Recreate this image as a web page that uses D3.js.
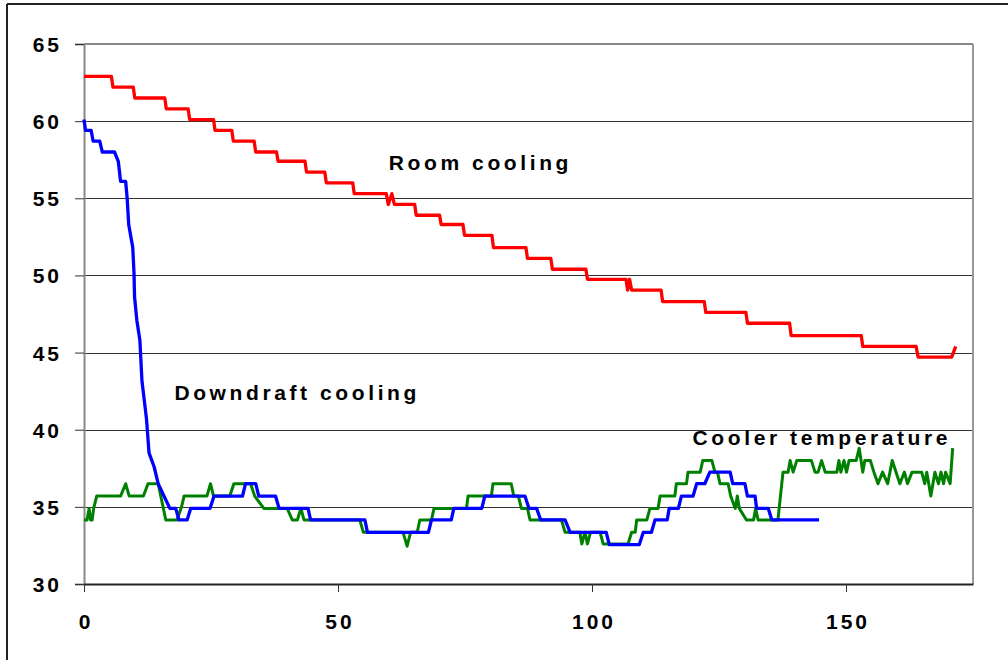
<!DOCTYPE html>
<html>
<head>
<meta charset="utf-8">
<script src="https://cdn.jsdelivr.net/npm/d3@7"></script>
<style>
  html, body { margin: 0; padding: 0; background: #fff; }
  svg { display: block; }
  text { font-family: "Liberation Sans", Arial, sans-serif; font-weight: bold; fill: #000; }
</style>
</head>
<body>
<svg id="chart" width="1008" height="660"></svg>
<script>
// ---- data ----
const xTicks = [0, 50, 100, 150];
const yTicks = [30, 35, 40, 45, 50, 55, 60, 65];

const roomCooling = [
  [0,62.9],[5.4,62.9],[5.7,62.2],[9.7,62.2],[10.0,61.5],[15.9,61.5],[16.2,60.8],[20.5,60.8],[20.8,60.1],
  [25.5,60.1],[25.8,59.4],[29.1,59.4],[29.4,58.7],[33.5,58.7],[33.8,58.0],[37.9,58.0],[38.2,57.4],
  [43.5,57.4],[43.8,56.7],[47.4,56.7],[47.7,56.0],[52.9,56.0],[53.2,55.3],[59.5,55.3],[59.9,54.6],
  [60.6,55.3],[61.1,54.6],[65.1,54.6],[65.4,53.9],[70.0,53.9],[70.3,53.3],[74.6,53.3],[74.9,52.6],
  [80.3,52.6],[80.6,51.8],[87.0,51.8],[87.3,51.1],[91.9,51.1],[92.2,50.4],[98.8,50.4],[99.1,49.75],
  [106.7,49.75],[107.0,49.05],[107.4,49.75],[107.8,49.05],[113.6,49.05],[113.9,48.3],[122.1,48.3],
  [122.4,47.6],[130.3,47.6],[130.6,46.9],[138.9,46.9],[139.2,46.1],[153.0,46.1],[153.3,45.4],
  [163.8,45.4],[164.2,44.7],[170.8,44.7],[171.6,45.4]
];

const downdraftCooling = [
  [0,60.1],[0.3,59.4],[1.4,59.4],[1.8,58.7],[3.1,58.7],[3.6,58.0],[6.0,58.0],[6.75,57.4],[7.2,56.1],
  [8.2,56.1],[8.5,55.0],[8.8,53.3],[9.6,51.8],[9.85,50.1],[9.95,48.6],[10.4,47.1],[11.0,45.8],
  [11.4,43.2],[12.3,40.7],[12.8,38.5],[13.8,37.6],[14.6,36.5],[15.6,35.8],[16.9,34.9],[18.05,34.9],
  [18.7,34.15],[20.3,34.15],[21.0,34.9],[24.8,34.9],[25.6,35.7],[31.2,35.7],[31.8,36.5],[33.8,36.5],
  [34.4,35.7],[37.7,35.7],[38.4,34.9],[44.1,34.9],[44.6,34.15],[55.3,34.15],[55.8,33.35],[67.8,33.35],
  [68.4,34.15],[72.3,34.15],[72.8,34.9],[78.3,34.9],[78.9,35.7],[86.8,35.7],[87.6,34.9],[89.1,34.9],
  [89.9,34.15],[94.7,34.15],[95.7,33.35],[102.8,33.35],[103.4,32.55],[109.3,32.55],[110.1,33.35],
  [111.7,33.35],[112.4,34.15],[114.8,34.15],[115.2,34.9],[117.0,34.9],[117.6,35.7],[119.9,35.7],
  [120.6,36.5],[122.2,36.5],[123.2,37.25],[127.2,37.25],[127.7,36.5],[130.1,36.5],[130.6,35.7],
  [132.1,35.7],[132.4,34.9],[134.7,34.9],[135.4,34.15],[144.7,34.15]
];

const coolerTemperature = [
  [0,34.15],[0.6,34.15],[1.0,34.9],[1.3,34.15],[1.6,34.15],[1.9,34.9],[2.5,35.7],[7.2,35.7],[8.2,36.5],
  [8.9,35.7],[11.7,35.7],[12.6,36.5],[14.6,36.5],[16.1,34.15],[18.3,34.15],[19.2,35.0],[19.7,35.7],
  [24.2,35.7],[24.9,36.5],[25.5,35.7],[28.7,35.7],[29.5,36.5],[32.8,36.5],[33.6,35.7],[35.4,34.9],
  [40.0,34.9],[41.0,34.15],[42.0,34.15],[42.7,34.9],[43.3,34.15],[54.3,34.15],[55.0,33.35],[62.8,33.35],
  [63.6,32.45],[64.3,33.35],[65.6,33.35],[66.1,34.15],[68.4,34.15],[68.9,34.9],[75.3,34.9],[75.6,35.7],
  [80.2,35.7],[80.5,36.5],[84.1,36.5],[84.6,35.7],[85.5,35.7],[86.1,34.9],[87.3,34.9],[87.8,34.15],
  [94.0,34.15],[94.7,33.35],[97.6,33.35],[98.0,32.6],[98.6,33.35],[99.1,32.6],[99.7,33.35],[101.6,33.35],
  [102.2,32.6],[107.1,32.6],[107.8,33.35],[108.5,33.35],[108.8,34.15],[110.8,34.15],[111.4,34.9],
  [113.0,34.9],[113.4,35.7],[116.3,35.7],[116.6,36.5],[118.6,36.5],[118.9,37.25],[121.3,37.25],
  [121.8,38.0],[123.6,38.0],[124.2,37.25],[124.7,37.25],[125.2,36.5],[126.8,36.5],[127.3,35.7],
  [128.2,34.9],[128.6,35.7],[129.0,34.9],[130.4,34.15],[131.8,34.15],[132.2,34.9],[132.7,34.15],
  [136.6,34.15],[137.6,37.25],[138.6,37.25],[139.0,38.0],[139.6,37.25],[140.3,38.0],[143.2,38.0],
  [143.9,37.25],[144.5,37.25],[145.2,38.0],[145.9,37.25],[148.2,37.25],[148.6,38.0],[149.0,37.25],
  [149.6,38.0],[150.1,37.25],[150.6,38.0],[152.0,38.0],[152.6,38.8],[153.3,37.25],[153.7,38.0],
  [154.8,38.0],[155.5,37.25],[156.3,36.5],[157.2,37.25],[158.2,36.5],[159.1,38.0],[160.6,36.5],
  [161.5,37.25],[162.1,36.5],[163.0,37.25],[164.9,37.25],[165.5,36.5],[165.9,37.25],[166.7,35.7],
  [167.5,37.25],[168.2,36.5],[168.7,37.25],[169.2,36.5],[169.6,37.25],[170.5,36.5],[171.0,38.8]
];

const seriesLabels = [
  { text: "Room cooling", x: 60, y: 56.83 },
  { text: "Downdraft cooling", x: 17.8, y: 41.93 },
  { text: "Cooler temperature", x: 119.8, y: 39.0 }
];

// ---- layout ----
const svg = d3.select("#chart");
const pLeft = 84, pRight = 973, pTop = 44, pBottom = 584;
const x = d3.scaleLinear().domain([0, 175]).range([pLeft, pRight]);
const y = d3.scaleLinear().domain([30, 65]).range([pBottom, pTop]);

// outer border (only top and left visible)
svg.append("line").attr("x1", 7).attr("x2", 1008).attr("y1", 4).attr("y2", 4)
  .attr("stroke", "#222").attr("stroke-width", 2);
svg.append("line").attr("x1", 7).attr("x2", 7).attr("y1", 4).attr("y2", 660)
  .attr("stroke", "#222").attr("stroke-width", 2);

// gridlines
svg.append("g").selectAll("line").data(yTicks.filter(d => d > 30 && d < 65)).join("line")
  .attr("x1", pLeft).attr("x2", pRight)
  .attr("y1", d => Math.round(y(d)) + 0.5).attr("y2", d => Math.round(y(d)) + 0.5)
  .attr("stroke", "#333").attr("stroke-width", 1);

// plot frame top & right (gray)
svg.append("line").attr("x1", pLeft).attr("x2", pRight).attr("y1", pTop).attr("y2", pTop)
  .attr("stroke", "#888").attr("stroke-width", 2);
svg.append("line").attr("x1", pRight).attr("x2", pRight).attr("y1", pTop).attr("y2", pBottom)
  .attr("stroke", "#999").attr("stroke-width", 2);

const tickFont = (sel) => sel.attr("font-size", 21)
  .attr("font-family", "Liberation Sans, Arial, sans-serif")
  .attr("font-weight", "bold").attr("fill", "#000").attr("letter-spacing", "3px");

// y axis
const yAxis = d3.axisLeft(y).tickValues(yTicks).tickSize(9).tickPadding(13).tickFormat(d3.format("d"));
const gy = svg.append("g").attr("transform", `translate(${pLeft},0)`).call(yAxis);
gy.select(".domain").attr("stroke", "#888").attr("stroke-width", 2);
gy.selectAll(".tick line").attr("stroke", "#333");
gy.selectAll(".tick text").call(tickFont).attr("dy", "0.36em");

// x axis
const xAxis = d3.axisBottom(x).tickValues(xTicks).tickSize(8).tickPadding(18).tickSizeOuter(0);
const gx = svg.append("g").attr("transform", `translate(0,${pBottom})`).call(xAxis);
gx.select(".domain").attr("stroke", "#222").attr("stroke-width", 2);
gx.selectAll(".tick line").attr("stroke", "#333");
gx.selectAll(".tick text").call(tickFont).attr("dy", "0.9em").attr("dx", 1.5);

// lines
const line = d3.line().x(d => x(d[0])).y(d => y(d[1]));
svg.append("path").datum(coolerTemperature).attr("d", line)
  .attr("fill", "none").attr("stroke", "#008000").attr("stroke-width", 3).attr("stroke-linejoin", "round");
svg.append("path").datum(downdraftCooling).attr("d", line)
  .attr("fill", "none").attr("stroke", "#0000FF").attr("stroke-width", 3.3).attr("stroke-linejoin", "round");
svg.append("path").datum(roomCooling).attr("d", line)
  .attr("fill", "none").attr("stroke", "#FF0000").attr("stroke-width", 3.3).attr("stroke-linejoin", "round");

// series labels
svg.append("g").selectAll("text").data(seriesLabels).join("text")
  .attr("x", d => x(d.x)).attr("y", d => y(d.y))
  .attr("font-size", 21).attr("letter-spacing", "3.6px")
  .text(d => d.text);
</script>
</body>
</html>
